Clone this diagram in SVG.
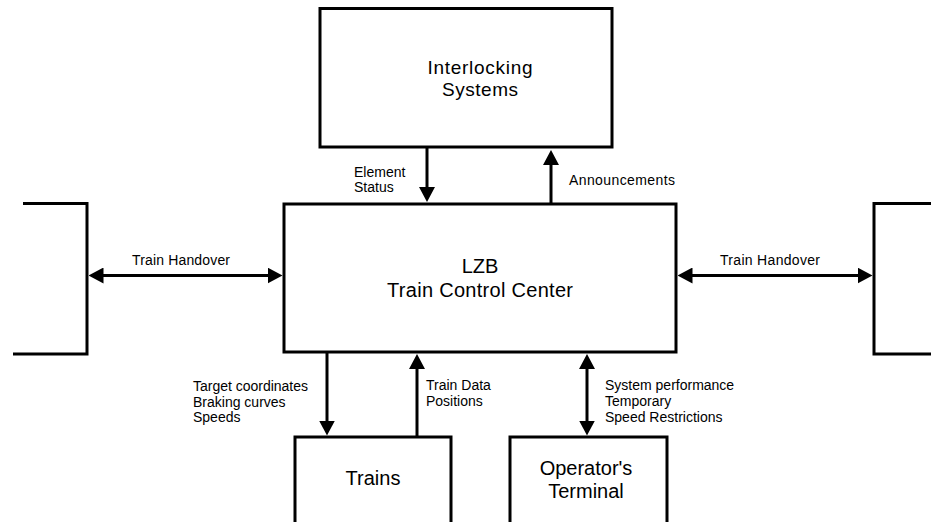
<svg xmlns="http://www.w3.org/2000/svg" width="931" height="522" viewBox="0 0 931 522">
<style>
.box{fill:none;stroke:#000;stroke-width:3}
.ln{fill:none;stroke:#000;stroke-width:3}
.big{font-family:"Liberation Sans",Arial,sans-serif;font-size:20px;fill:#000;text-anchor:middle}
.mid{font-family:"Liberation Sans",Arial,sans-serif;font-size:19px;fill:#000;text-anchor:middle}
.lbl{font-family:"Liberation Sans",Arial,sans-serif;font-size:14px;fill:#000}
</style>
<defs>
<marker id="ah" markerUnits="userSpaceOnUse" markerWidth="15" markerHeight="16" refX="11" refY="8" orient="auto-start-reverse" viewBox="0 0 15 16">
<path d="M0,0 L15,8 L0,16 Z" fill="#000"/>
</marker>
</defs>
<rect width="931" height="522" fill="#fff"/>
<g id="interlocking">
<rect class="box" x="320" y="8.5" width="292" height="138.5"/>
<text class="mid" x="480" y="74" textLength="105" lengthAdjust="spacing">Interlocking</text>
<text class="mid" x="480" y="95.5" textLength="76" lengthAdjust="spacing">Systems</text>
</g>
<g id="lzb">
<rect class="box" x="284" y="204" width="392" height="148"/>
<text class="big" x="480" y="273">LZB</text>
<text class="big" x="480" y="297" textLength="186" lengthAdjust="spacing">Train Control Center</text>
</g>
<g id="left-neighbor">
<path class="ln" d="M23,203.5 H87 V354 H13"/>
</g>
<g id="right-neighbor">
<path class="ln" d="M931,203.5 H874 V354 H931"/>
</g>
<g id="trains">
<path class="box" d="M295,530 V437 H451 V530"/>
<text class="big" x="373" y="485">Trains</text>
</g>
<g id="operator">
<path class="box" d="M510,530 V437 H667 V530"/>
<text class="big" x="586" y="474.5">Operator's</text>
<text class="big" x="586" y="497.5">Terminal</text>
</g>
<g id="connectors">
<line class="ln" x1="427" y1="148" x2="427" y2="198" marker-end="url(#ah)"/>
<line class="ln" x1="551" y1="204" x2="551" y2="154" marker-end="url(#ah)"/>
<line class="ln" x1="92.5" y1="275.5" x2="278.5" y2="275.5" marker-start="url(#ah)" marker-end="url(#ah)"/>
<line class="ln" x1="681.5" y1="275.5" x2="868.5" y2="275.5" marker-start="url(#ah)" marker-end="url(#ah)"/>
<line class="ln" x1="327" y1="353" x2="327" y2="431.5" marker-end="url(#ah)"/>
<line class="ln" x1="417" y1="437" x2="417" y2="358" marker-end="url(#ah)"/>
<line class="ln" x1="587" y1="358" x2="587" y2="431.5" marker-start="url(#ah)" marker-end="url(#ah)"/>
<text class="lbl" x="354" y="177">Element</text>
<text class="lbl" x="354" y="192">Status</text>
<text class="lbl" x="569" y="185" textLength="106" lengthAdjust="spacing">Announcements</text>
<text class="lbl" x="132" y="265" textLength="98" lengthAdjust="spacing">Train Handover</text>
<text class="lbl" x="720" y="265" textLength="100" lengthAdjust="spacing">Train Handover</text>
<text class="lbl" x="193" y="391" textLength="115" lengthAdjust="spacing">Target coordinates</text>
<text class="lbl" x="193" y="406.5">Braking curves</text>
<text class="lbl" x="193" y="422">Speeds</text>
<text class="lbl" x="426" y="390">Train Data</text>
<text class="lbl" x="426" y="406">Positions</text>
<text class="lbl" x="605" y="390">System performance</text>
<text class="lbl" x="605" y="406">Temporary</text>
<text class="lbl" x="605" y="422">Speed Restrictions</text>
</g>
</svg>
